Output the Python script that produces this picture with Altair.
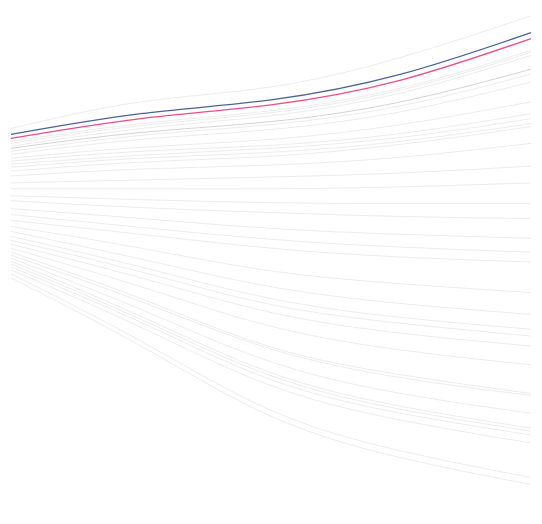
import altair as alt
import pandas as pd

steps = [0, 1, 2, 3, 4]

# values on a reversed scale (smaller = higher on chart)
blue = [133, 112, 98, 72, 30]
pink = [137, 117, 103, 78, 36]

greys = [
    [127, 100, 85, 55, 13],
    [140, 122, 109, 86, 48],
    [142, 124, 111, 88, 50],
    [145, 127, 114, 91, 53],
    [147, 131, 120, 100, 67],
    [150, 134, 123, 104, 72],
    [153, 138, 128, 110, 80],
    [157, 146, 138, 123, 100],
    [160, 150, 144, 132, 112],
    [163, 154, 147, 136, 117],
    [166, 157, 151, 140, 122],
    [170, 161, 155, 143, 125],
    [175, 168, 164, 156, 142],
    [182, 179, 176, 172, 165],
    [188, 188, 188, 186, 182],
    [195, 199, 202, 203, 203],
    [200, 207, 212, 216, 218],
    [208, 218, 228, 234, 238],
    [214, 227, 239, 247, 252],
    [220, 234, 248, 257, 262],
    [226, 248, 271, 284, 293],
    [231, 259, 287, 304, 315],
    [236, 267, 299, 318, 330],
    [240, 272, 305, 324, 337],
    [244, 278, 313, 334, 347],
    [248, 287, 327, 351, 366],
    [252, 299, 348, 376, 395],
    [255, 302, 350, 379, 397],
    [258, 310, 363, 395, 415],
    [261, 317, 374, 408, 430],
    [264, 320, 377, 411, 433],
    [267, 323, 381, 415, 437],
    [270, 328, 387, 422, 445],
    [274, 342, 412, 453, 480],
    [278, 347, 418, 460, 487],
]
dark_index = 4

rows = []
for i, s in enumerate(greys):
    grp = "dark" if i == dark_index else "grey"
    for x, v in zip(steps, s):
        rows.append({"series": f"g{i}", "step": x, "value": v, "group": grp})
grey_df = pd.DataFrame(rows)

hrows = []
for name, s in [("blue", blue), ("pink", pink)]:
    for x, v in zip(steps, s):
        hrows.append({"series": name, "step": x, "value": v, "group": name})
hl_df = pd.DataFrame(hrows)

xs = alt.X("step:Q", axis=None, scale=alt.Scale(domain=[0, 4], nice=False, zero=False))
ys = alt.Y("value:Q", axis=None, scale=alt.Scale(domain=[8, 516], reverse=True, nice=False, zero=False))
cscale = alt.Scale(domain=["grey", "dark", "blue", "pink"],
                   range=["#ececec", "#d2d2d2", "#4a6394", "#ee4c8a"])

grey_layer = alt.Chart(grey_df).mark_line(interpolate="natural", strokeWidth=1).encode(
    x=xs, y=ys, detail="series:N",
    color=alt.Color("group:N", scale=cscale, legend=None),
)
hl_layer = alt.Chart(hl_df).mark_line(interpolate="natural", strokeWidth=1.3).encode(
    x=xs, y=ys, detail="series:N",
    color=alt.Color("group:N", scale=cscale, legend=None),
)

chart = alt.layer(grey_layer, hl_layer).properties(
    width=526, height=508, padding=0, background="white"
).configure_view(strokeWidth=0)

chart.save("out.html", embed_options={"renderer": "svg", "actions": False})
